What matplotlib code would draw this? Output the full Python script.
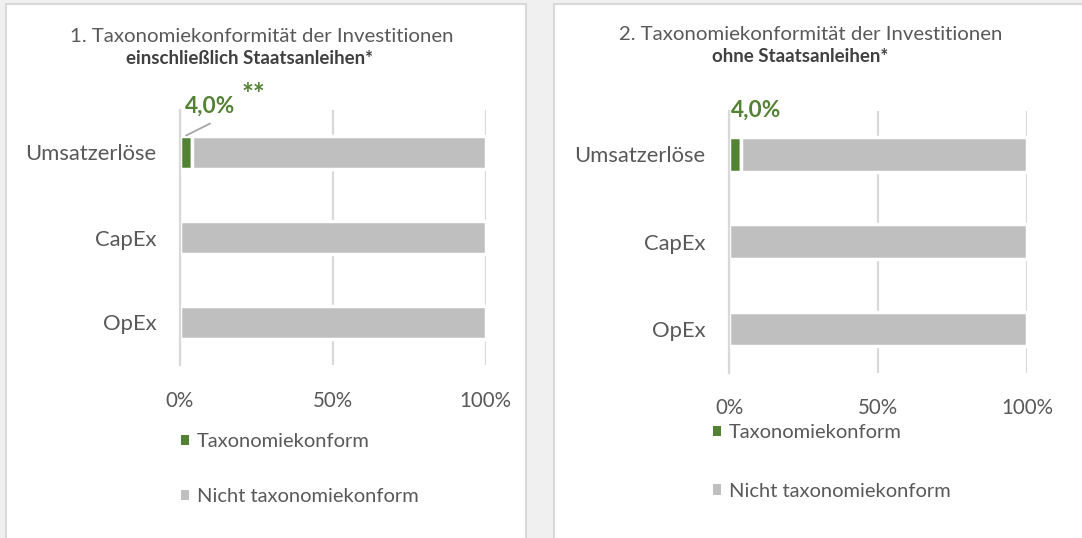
import matplotlib
matplotlib.use("Agg")
import matplotlib.pyplot as plt
from matplotlib.patches import Rectangle, Patch

plt.rcParams['font.family'] = ['Lato', 'DejaVu Sans']

# data
categories = ["Umsatzerlöse", "CapEx", "OpEx"]
konform_1 = [4.0, 0.0, 0.0]          # incl. Staatsanleihen
nicht_1 = [96.0, 100.0, 100.0]
konform_2 = [4.0, 0.0, 0.0]          # ohne Staatsanleihen
nicht_2 = [96.0, 100.0, 100.0]
xticks = [0, 50, 100]
xticklabels = ["0%", "50%", "100%"]
series_names = ["Taxonomiekonform", "Nicht taxonomiekonform"]
label_1 = "4,0%"
label_2 = "4,0%"

GREEN = "#548235"
GREY = "#bfbfbf"
TXT = "#595959"
GRID = "#d9d9d9"

W, H = 1082, 538
fig = plt.figure(figsize=(W / 100, H / 100), dpi=100, facecolor="#f0f0f0")

def px(x0, y0, x1, y1):
    # pixel box (top-left origin) -> figure fraction rect
    return [x0 / W, 1 - y1 / H, (x1 - x0) / W, (y1 - y0) / H]

# white panels
for (a, b) in [(6, 526), (554, 1090)]:
    fig.add_artist(Rectangle((a / W, -0.05), (b - a) / W, 1.05 - 4 / H,
                             transform=fig.transFigure, facecolor="white",
                             edgecolor="#d9d9d9", lw=1.5, zorder=0))

def draw(ax, konf, nicht, bh):
    y = range(len(categories))
    ax.barh(y, konf, height=bh, color=GREEN, edgecolor="white", lw=2.5, zorder=2)
    ax.barh(y, nicht, left=konf, height=bh, color=GREY, edgecolor="white", lw=2.5, zorder=2)
    ax.set_xlim(0, 100)
    ax.set_ylim(2.5, -0.5)
    ax.set_yticks(list(y))
    ax.set_yticklabels(categories, fontsize=15.8, color=TXT)
    ax.set_xticks(xticks)
    ax.set_xticklabels(xticklabels, fontsize=14.8, color=TXT)
    ax.tick_params(axis="y", length=0, pad=17)
    ax.tick_params(axis="x", length=0, pad=18.5)
    ax.set_axisbelow(True)
    ax.xaxis.grid(True, color=GRID, lw=1.6)
    for s in ["top", "right", "bottom"]:
        ax.spines[s].set_visible(False)
    ax.spines["left"].set_color(GRID)
    ax.spines["left"].set_linewidth(1.6)
    ax.spines["left"].set_zorder(3)
    ax.set_facecolor("none")

def add_legend(ax, x, y, spacing):
    handles = [Patch(facecolor=GREEN, edgecolor="none"), Patch(facecolor=GREY, edgecolor="none")]
    ax.legend(handles, series_names, loc="upper left", bbox_to_anchor=(x / W, 1 - y / H),
              bbox_transform=fig.transFigure, frameon=False, fontsize=14.5,
              handlelength=0.4, handleheight=0.4, handletextpad=0.4,
              labelspacing=spacing, labelcolor=TXT, borderpad=0, borderaxespad=0)

# chart 1
ax1 = fig.add_axes(px(180, 110, 485.5, 365))
draw(ax1, konform_1, nicht_1, 0.38)
# leader line for the data label
ax1.annotate("", xy=(2, -0.2), xytext=(24, 12), textcoords="offset pixels",
             annotation_clip=False,
             arrowprops=dict(arrowstyle="-", color="#a6a6a6", lw=1.3, shrinkA=0, shrinkB=0))
ax1.annotate(label_1, xy=(2, -0.2), xytext=(24, 29), textcoords="offset pixels",
             ha="center", va="center", fontsize=16.3, fontweight="bold", color=GREEN,
             annotation_clip=False)
ax1.annotate("**", xy=(2, -0.2), xytext=(67, 40), textcoords="offset pixels",
             ha="center", va="center", fontsize=20, fontweight="bold", color=GREEN,
             annotation_clip=False)
fig.text(262 / W, 1 - 37 / H, "1. Taxonomiekonformität der Investitionen",
         ha="center", va="center", fontsize=14.7, color=TXT)
fig.text(250 / W, 1 - 58 / H, "einschließlich Staatsanleihen*",
         ha="center", va="center", fontsize=13.5, fontweight="bold", color="#404040")
add_legend(ax1, 181, 433, 1.9)

# chart 2
ax2 = fig.add_axes(px(729.3, 110.7, 1027.3, 372.7))
draw(ax2, konform_2, nicht_2, 0.395)
ax2.annotate(label_2, xy=(0, 0), xytext=(2, 44), textcoords="offset pixels",
             ha="left", va="center", fontsize=16.3, fontweight="bold", color=GREEN,
             annotation_clip=False)
fig.text(811 / W, 1 - 34 / H, "2. Taxonomiekonformität der Investitionen",
         ha="center", va="center", fontsize=14.7, color=TXT)
fig.text(800 / W, 1 - 56 / H, "ohne Staatsanleihen*",
         ha="center", va="center", fontsize=13.5, fontweight="bold", color="#404040")
add_legend(ax2, 713, 424.5, 2.05)

fig.savefig("out.png", dpi=100, facecolor=fig.get_facecolor())
